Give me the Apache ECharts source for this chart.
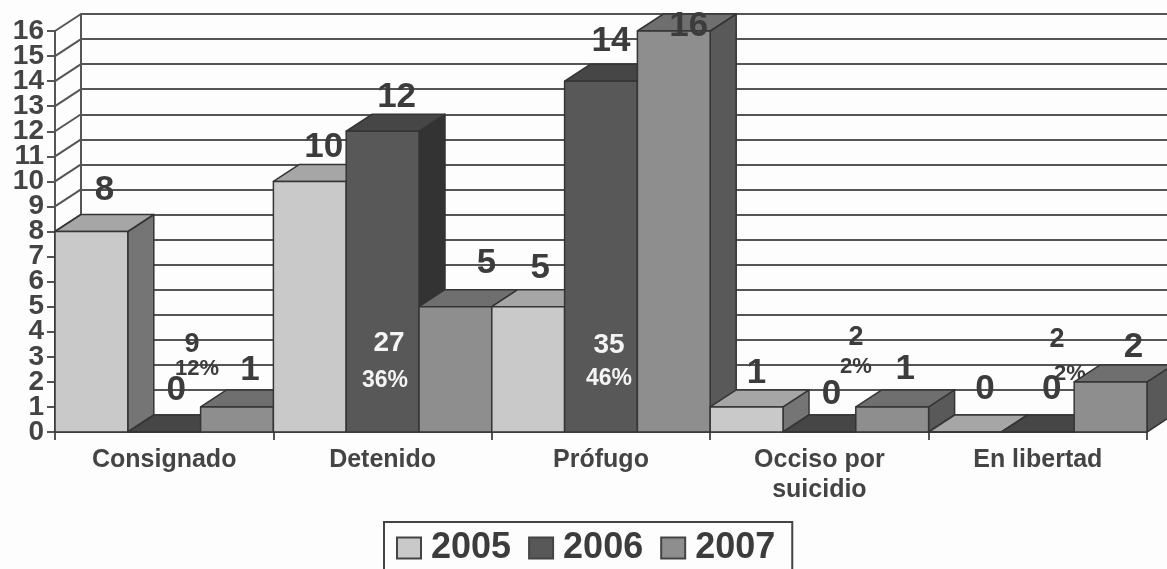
<!DOCTYPE html>
<html>
<head>
<meta charset="utf-8">
<style>html,body{margin:0;padding:0;background:#fdfdfd;overflow:hidden}#chart{width:1167px;height:569px}</style>
<script src="https://cdn.jsdelivr.net/npm/echarts@6/dist/echarts.min.js"></script>
</head>
<body>
<div id="chart" class="chart"></div>
<script>
const categories = ['Consignado', 'Detenido', 'Prófugo', 'Occiso por\nsuicidio', 'En libertad'];
const years = ['2005', '2006', '2007'];
const values2005 = [8, 10, 5, 1, 0];
const values2006 = [0, 12, 14, 0, 0];
const values2007 = [1, 5, 16, 1, 2];
const yTicks = [0, 1, 2, 3, 4, 5, 6, 7, 8, 9, 10, 11, 12, 13, 14, 15, 16];

// leftover labels from the pie that sat on the original chart
const noteTexts = ['9', '12%', '27', '36%', '35', '46%', '2', '2%', '2', '2%'];

// fake 3d depth, in pixels
const DX = 26, DY = 17;
const ink = '#3c3c3c';
const font = '"Liberation Sans", Arial, sans-serif';

const allValues = [values2005, values2006, values2007];
const faces = [
  { front: '#c9c9c9', top: '#a6a6a6', side: '#757575' },
  { front: '#585858', top: '#464646', side: '#333333' },
  { front: '#8e8e8e', top: '#6f6f6f', side: '#595959' }
];

// label nudges per bar, [dx, dy] from the front top centre
const labelNudge = [
  [[13, -41], [14, -34], [12, -38], [10, -34], [20, -43]],
  [[12, -42], [14, -34], [10, -40], [12, -38], [14, -43]],
  [[13, -37], [31, -43], [15, -5], [13, -38], [23, -35]]
];
const notePlaces = [
  [192, 345, 27, ink, 1], [197, 369, 22, ink, 1], [389, 343, 28, '#f4f4f4', 20], [385, 381, 23, '#f4f4f4', 20],
  [609, 345, 28, '#f4f4f4', 20], [609, 379, 23, '#f4f4f4', 20], [856, 338, 27, ink, 1], [856, 367, 22, ink, 1],
  [1057, 340, 27, ink, 1], [1070, 374, 22, ink, 1]
];

function barItem(s) {
  return function (params, api) {
    const cat = api.value(0);
    const w = api.size([1, 0])[0] / 3;
    const top = api.coord([cat, api.value(1)]);
    const base = api.coord([cat, 0]);
    const x0 = top[0] + (s - 1.5) * w, x1 = x0 + w;
    const y0 = top[1], y1 = base[1];
    const line = { stroke: '#353535', lineWidth: 1.5, lineJoin: 'round' };
    const z2 = cat * 3 + s;
    const poly = (points, fill) => ({
      type: 'polygon', z2: z2, shape: { points: points }, style: Object.assign({ fill: fill }, line)
    });
    return {
      type: 'group',
      children: [
        poly([[x1, y0], [x1 + DX, y0 - DY], [x1 + DX, y1 - DY], [x1, y1]], faces[s].side),
        poly([[x0, y0], [x0 + DX, y0 - DY], [x1 + DX, y0 - DY], [x1, y0]], faces[s].top),
        poly([[x0, y0], [x1, y0], [x1, y1], [x0, y1]], faces[s].front)
      ]
    };
  };
}

const barSeries = years.map((year, s) => ({
  name: year,
  type: 'custom',
  z: 3,
  renderItem: barItem(s),
  encode: { x: 0, y: 1 },
  data: allValues[s].map((v, i) => [i, v])
}));

const labelData = [];
allValues.forEach((vals, s) => vals.forEach((v, i) => labelData.push([i, v, s])));

const labelSeries = {
  type: 'custom',
  z: 6,
  encode: { x: 0, y: 1 },
  renderItem: function (params, api) {
    const cat = api.value(0), s = api.value(2);
    const w = api.size([1, 0])[0] / 3;
    const p = api.coord([cat, api.value(1)]);
    const nudge = labelNudge[s][cat];
    return {
      type: 'text',
      style: {
        x: p[0] + (s - 1) * w + nudge[0],
        y: p[1] + nudge[1],
        text: String(api.value(1)),
        fill: ink,
        font: 'bold 35px ' + font,
        align: 'center',
        verticalAlign: 'middle'
      }
    };
  },
  data: labelData
};

// slanted lines joining the left axis to the back wall, plus the y tick labels
// (the axis's own labels get dropped for overlapping at this size)
const wallSeries = {
  type: 'custom',
  z: 1,
  encode: { x: 0, y: 1 },
  renderItem: function (params, api) {
    const p = api.coord([0, api.value(1)]);
    const x = p[0] - api.size([1, 0])[0] / 2;
    return {
      type: 'group',
      children: [
        {
          type: 'line',
          shape: { x1: x, y1: p[1], x2: x + DX, y2: p[1] - DY },
          style: { stroke: '#555', lineWidth: 2 }
        },
        {
          type: 'text',
          style: {
            x: x - 11,
            y: p[1],
            text: String(api.value(1)),
            fill: '#444',
            font: 'bold 28px ' + font,
            align: 'right',
            verticalAlign: 'middle'
          }
        }
      ]
    };
  },
  data: yTicks.map(t => [0, t])
};

const myChart = echarts.init(document.getElementById('chart'));
myChart.setOption({
  animation: false,
  backgroundColor: '#fdfdfd',
  grid: [
    { left: 55, top: 31, width: 1092, height: 401 },
    { left: 81, top: 14, width: 1092, height: 401 }
  ],
  xAxis: [
    {
      type: 'category',
      data: categories,
      axisLine: { lineStyle: { color: '#555', width: 2 } },
      axisTick: { show: true, alignWithLabel: false, length: 8, lineStyle: { color: '#555', width: 2 } },
      axisLabel: {
        interval: 0, margin: 13, color: '#444', fontFamily: font, fontWeight: 'bold', fontSize: 25, lineHeight: 30
      }
    },
    { type: 'category', gridIndex: 1, data: categories, show: false }
  ],
  yAxis: [
    {
      type: 'value',
      min: 0,
      max: 16,
      interval: 1,
      axisLine: { show: true, lineStyle: { color: '#555', width: 2 } },
      axisTick: { show: true, length: 8, lineStyle: { color: '#555', width: 2 } },
      axisLabel: { show: false },
      splitLine: { show: false }
    },
    {
      type: 'value',
      gridIndex: 1,
      min: 0,
      max: 16,
      interval: 1,
      axisLine: { show: true, lineStyle: { color: '#555', width: 2 } },
      axisTick: { show: false },
      axisLabel: { show: false },
      splitLine: { show: true, lineStyle: { color: '#555', width: 2 } }
    }
  ],
  legend: {
    left: 384,
    top: 522,
    data: years.map((y, s) => ({
      name: y,
      icon: 'rect',
      itemStyle: { color: faces[s].front, borderColor: '#444', borderWidth: 2 }
    })),
    itemWidth: 24,
    itemHeight: 21,
    itemGap: 17,
    padding: [8, 17, 30, 12],
    borderColor: '#444',
    borderWidth: 2,
    textStyle: {
      color: ink, fontFamily: font, fontWeight: 'bold', fontSize: 36, padding: [0, 0, 0, 5]
    }
  },
  graphic: noteTexts.map((t, i) => ({
    type: 'text',
    x: notePlaces[i][0],
    y: notePlaces[i][1],
    z: notePlaces[i][4],
    style: {
      text: t,
      fill: notePlaces[i][3],
      font: 'bold ' + notePlaces[i][2] + 'px ' + font,
      align: 'center',
      verticalAlign: 'middle'
    }
  })),
  series: [wallSeries].concat(barSeries, [labelSeries])
});
</script>
</body>
</html>
